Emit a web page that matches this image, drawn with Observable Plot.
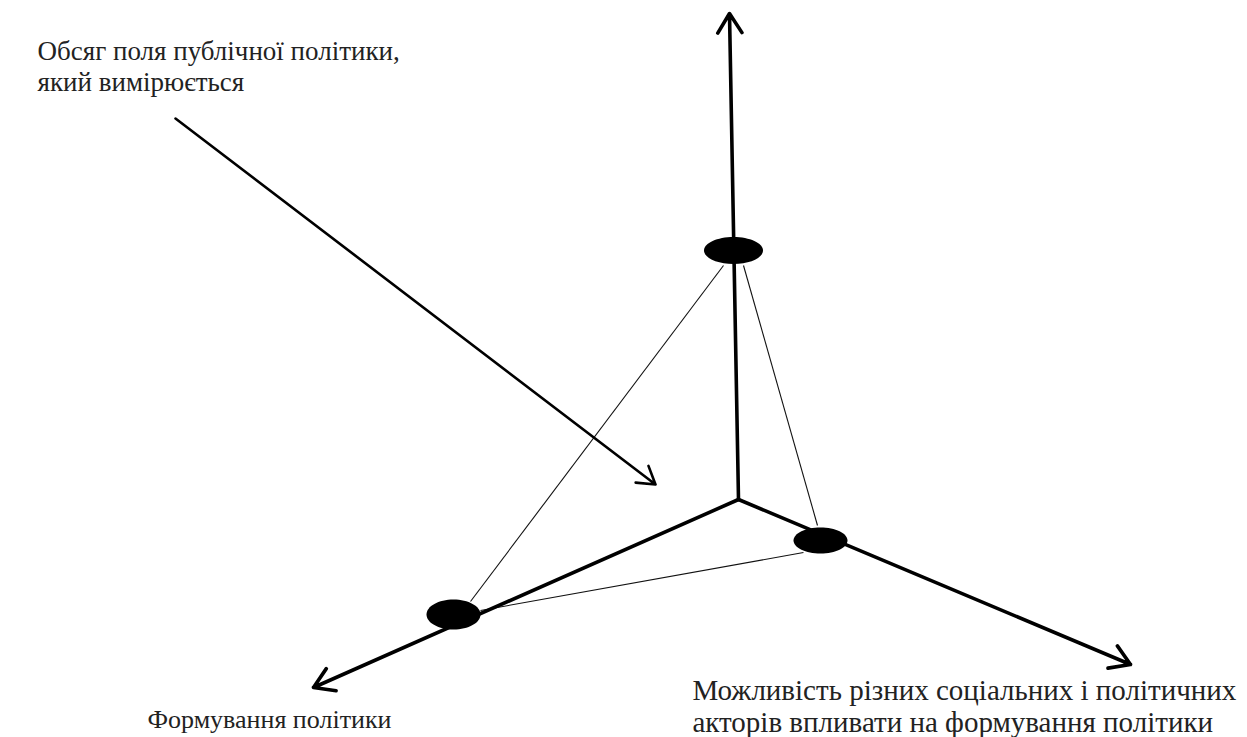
<!DOCTYPE html>
<html>
<head>
<meta charset="utf-8">
<script src="https://cdn.jsdelivr.net/npm/d3@7"></script>
<script src="https://cdn.jsdelivr.net/npm/@observablehq/plot@0.6"></script>
<style>
  html, body { margin: 0; padding: 0; background: #fff; }
  #chart svg { display: block; }
</style>
</head>
<body>
<div id="chart"></div>
<script>
// Axes of the diagram (from origin to arrow tip)
const axisNames = ["vertical", "left", "right"];
const axisX1 = [738, 738, 738];
const axisY1 = [499, 499, 499];
const axisX2 = [729, 313, 1130];
const axisY2 = [13, 687, 664];

// Pointer arrow to the measured area
const pointerX1 = [175];
const pointerY1 = [118];
const pointerX2 = [655];
const pointerY2 = [484];

// Points on the axes (ellipses): centre and radii
const pointNames = ["top", "left", "right"];
const pointCX = [733, 453, 820];
const pointCY = [250, 614, 540];
const pointRX = [29.5, 27, 27];
const pointRY = [13.5, 15, 13];

// Thin lines joining the points
const linkX1 = [723, 743, 480];
const linkY1 = [265, 265, 610];
const linkX2 = [470, 817, 803];
const linkY2 = [601, 525, 552];

// Labels
const labelGroups = ["area", "area", "formation", "actors", "actors"];
const labelTexts = [
  "Обсяг поля публічної політики,",
  "який вимірюється",
  "Формування політики",
  "Можливість різних соціальних і політичних",
  "акторів впливати на формування політики"
];
const labelX = [37, 37, 147, 692, 692];
const labelY = [59, 90, 727, 699, 731];

const W = 1247, H = 737;

const axes = axisNames.map((n, i) => ({n, x1: axisX1[i], y1: axisY1[i], x2: axisX2[i], y2: axisY2[i]}));
const pointer = pointerX1.map((v, i) => ({x1: v, y1: pointerY1[i], x2: pointerX2[i], y2: pointerY2[i]}));
const points = pointNames.map((n, i) => ({n, x: pointCX[i], y: pointCY[i], rx: pointRX[i], ry: pointRY[i]}));
const links = linkX1.map((v, i) => ({x1: v, y1: linkY1[i], x2: linkX2[i], y2: linkY2[i]}));
const labels = labelTexts.map((t, i) => ({g: labelGroups[i], t, x: labelX[i], y: labelY[i]}));

function ellipseSymbol(rx, ry) {
  const k = 0.5522847498;
  return {
    draw(ctx) {
      ctx.moveTo(rx, 0);
      ctx.bezierCurveTo(rx, ry * k, rx * k, ry, 0, ry);
      ctx.bezierCurveTo(-rx * k, ry, -rx, ry * k, -rx, 0);
      ctx.bezierCurveTo(-rx, -ry * k, -rx * k, -ry, 0, -ry);
      ctx.bezierCurveTo(rx * k, -ry, rx, -ry * k, rx, 0);
      ctx.closePath();
    }
  };
}

const ellipseMarks = points.map(p =>
  Plot.dot([p], {x: "x", y: "y", symbol: ellipseSymbol(p.rx, p.ry), fill: "#000", stroke: "none", r: 10})
);

const serif = "'Liberation Serif', 'Times New Roman', serif";
const groupFont = {area: 27, formation: 26, actors: 29};
const textMarks = Object.keys(groupFont).map(g =>
  Plot.text(labels.filter(d => d.g === g), {
    x: "x", y: "y", text: "t", textAnchor: "start", lineAnchor: "bottom",
    fontFamily: serif, fontSize: groupFont[g], fill: "#222"
  })
);

const chart = Plot.plot({
  width: W,
  height: H,
  margin: 0,
  x: {domain: [0, W], range: [0, W], axis: null},
  y: {domain: [0, H], range: [0, H], axis: null},
  style: {background: "#fff", fontFamily: serif},
  marks: [
    Plot.link(links, {x1: "x1", y1: "y1", x2: "x2", y2: "y2", stroke: "#111", strokeWidth: 1.1}),
    Plot.arrow(axes, {x1: "x1", y1: "y1", x2: "x2", y2: "y2", stroke: "#000", strokeWidth: 3.6, headLength: 9.5, headAngle: 64}),
    Plot.arrow(pointer, {x1: "x1", y1: "y1", x2: "x2", y2: "y2", stroke: "#000", strokeWidth: 2.6, headLength: 11.5, headAngle: 64}),
    ...ellipseMarks,
    ...textMarks
  ]
});

document.getElementById("chart").appendChild(chart);
</script>
</body>
</html>
